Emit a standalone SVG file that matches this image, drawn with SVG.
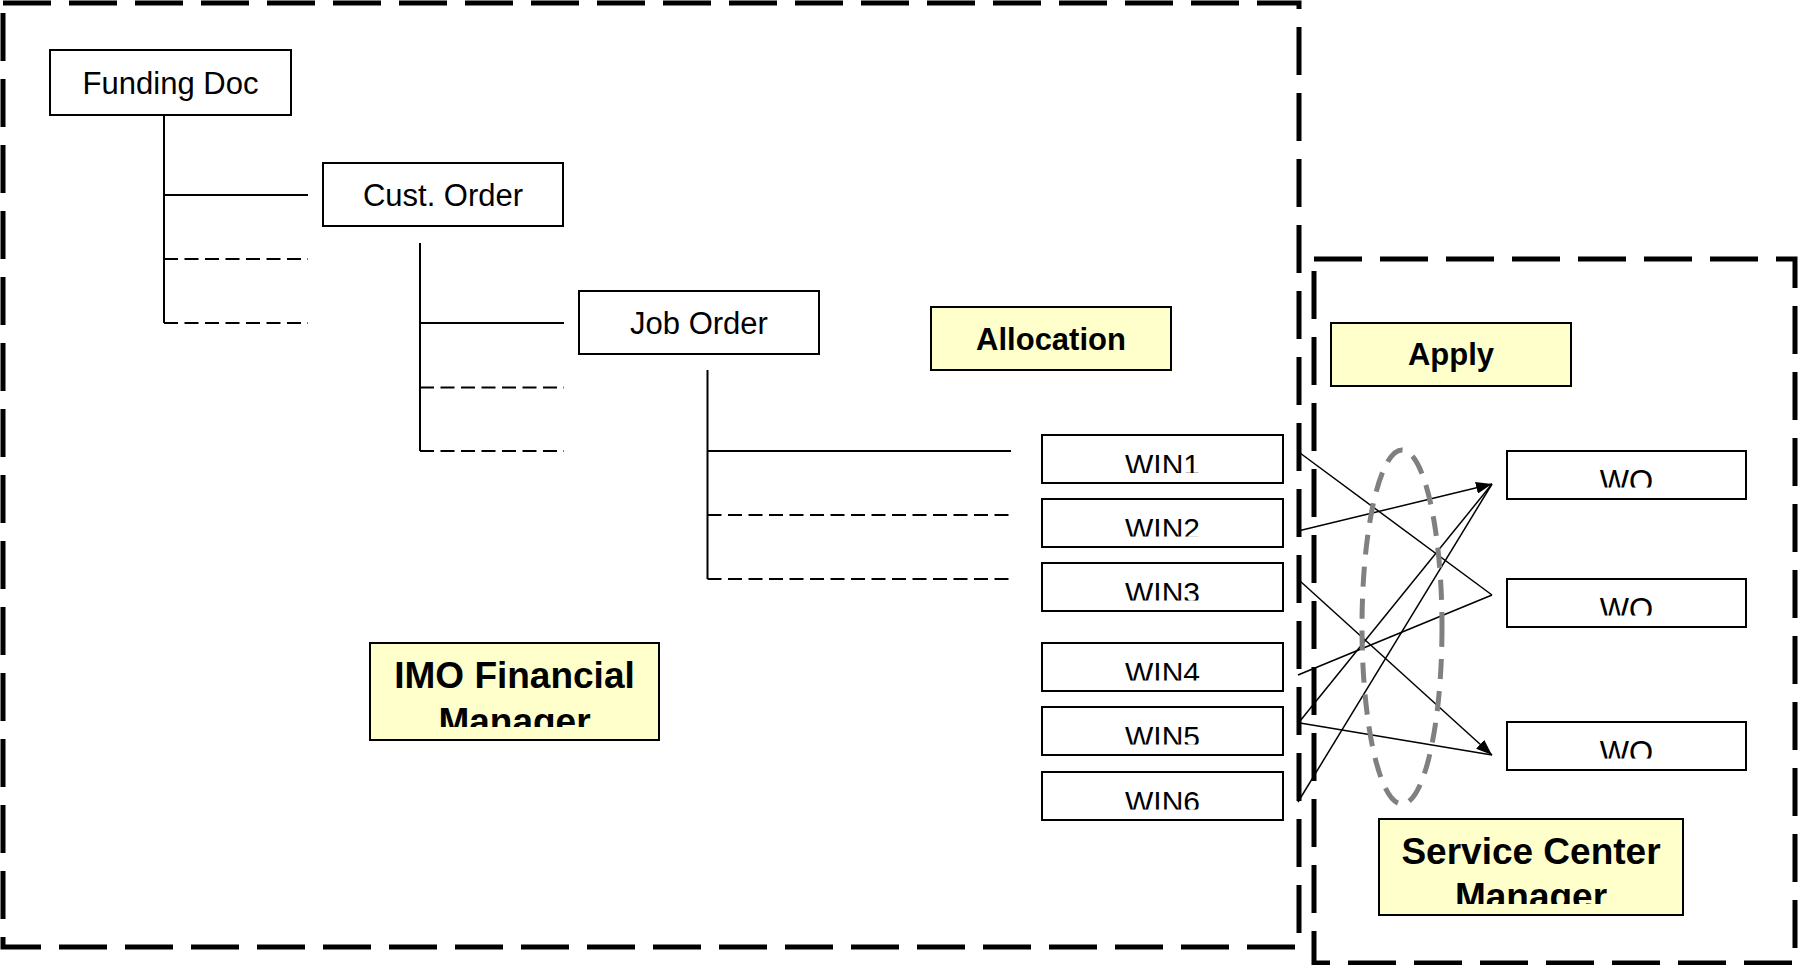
<svg xmlns="http://www.w3.org/2000/svg" width="1798" height="965" viewBox="0 0 1798 965">
<style>
.box{fill:#fff;stroke:#000;stroke-width:2}
.note{fill:#ffffcc;stroke:#000;stroke-width:2}
.t{font-family:"Liberation Sans",Arial,sans-serif;font-size:31px;text-anchor:middle;fill:#000}
.b{font-family:"Liberation Sans",Arial,sans-serif;font-weight:bold;font-size:31px;text-anchor:middle;fill:#000}
.big{font-size:37px}
.win{font-size:30px}
.solid{stroke:#000;stroke-width:2;fill:none}
.dash{stroke:#000;stroke-width:2;fill:none;stroke-dasharray:14 6.5}
.region{fill:none;stroke:#000;stroke-width:5;stroke-dasharray:48 18}
.conn{stroke:#000;stroke-width:1.5;fill:none}
</style>
<defs>
<marker id="arr" markerUnits="userSpaceOnUse" markerWidth="16" markerHeight="12" refX="16" refY="6" orient="auto">
<path d="M0,0 L16,6 L0,12 z" fill="#000"/>
</marker>
<clipPath id="cW1" clipPathUnits="userSpaceOnUse"><rect x="1042" y="435" width="241" height="38"/></clipPath>
<clipPath id="cW2" clipPathUnits="userSpaceOnUse"><rect x="1042" y="499" width="241" height="37.5"/></clipPath>
<clipPath id="cW3" clipPathUnits="userSpaceOnUse"><rect x="1042" y="563" width="241" height="37.5"/></clipPath>
<clipPath id="cW4" clipPathUnits="userSpaceOnUse"><rect x="1042" y="643" width="241" height="37.5"/></clipPath>
<clipPath id="cW5" clipPathUnits="userSpaceOnUse"><rect x="1042" y="707" width="241" height="37.5"/></clipPath>
<clipPath id="cW6" clipPathUnits="userSpaceOnUse"><rect x="1042" y="772" width="241" height="37.5"/></clipPath>
<clipPath id="cO1" clipPathUnits="userSpaceOnUse"><rect x="1507" y="451" width="239" height="36.5"/></clipPath>
<clipPath id="cO2" clipPathUnits="userSpaceOnUse"><rect x="1507" y="579" width="239" height="36.5"/></clipPath>
<clipPath id="cO3" clipPathUnits="userSpaceOnUse"><rect x="1507" y="722" width="239" height="36.5"/></clipPath>
<clipPath id="cIMO" clipPathUnits="userSpaceOnUse"><rect x="370" y="643" width="289" height="84"/></clipPath>
<clipPath id="cSCM" clipPathUnits="userSpaceOnUse"><rect x="1379" y="819" width="304" height="85"/></clipPath>
</defs>

<g id="regions">
<rect class="region" x="3" y="3" width="1296" height="944"/>
<rect class="region" x="1314" y="259" width="481" height="704"/>
</g>

<g id="connectors">
<!-- tree -->
<path class="solid" d="M164,115 V323"/>
<path class="solid" d="M164,195 H308"/>
<path class="dash" d="M164,259 H308"/>
<path class="dash" d="M164,323 H308"/>
<path class="solid" d="M420,243 V451"/>
<path class="solid" d="M420,323 H564"/>
<path class="dash" d="M420,387.5 H564"/>
<path class="dash" d="M420,451 H564"/>
<path class="solid" d="M707.5,370 V579"/>
<path class="solid" d="M707.5,451 H1011"/>
<path class="dash" d="M707.5,515 H1011"/>
<path class="dash" d="M707.5,579 H1011"/>
<!-- allocation lines -->
<line class="conn" x1="1300" y1="453" x2="1492" y2="595"/>
<line class="conn" x1="1298" y1="531" x2="1492" y2="484" marker-end="url(#arr)"/>
<line class="conn" x1="1300" y1="581" x2="1492" y2="755" marker-end="url(#arr)"/>
<line class="conn" x1="1298" y1="675" x2="1492" y2="595"/>
<line class="conn" x1="1300" y1="721" x2="1492" y2="484"/>
<line class="conn" x1="1300" y1="723" x2="1492" y2="755"/>
<line class="conn" x1="1298" y1="802" x2="1492" y2="484"/>
<ellipse cx="1402" cy="627" rx="40" ry="177" fill="none" stroke="#808080" stroke-width="5" stroke-dasharray="20 12"/>
</g>

<g id="funding-doc"><rect class="box" x="50" y="50" width="241" height="65"/><text class="t" x="170.5" y="94">Funding Doc</text></g>
<g id="cust-order"><rect class="box" x="323" y="163" width="240" height="63"/><text class="t" x="443" y="206">Cust. Order</text></g>
<g id="job-order"><rect class="box" x="579" y="291" width="240" height="63"/><text class="t" x="699" y="334">Job Order</text></g>
<g id="allocation"><rect class="note" x="931" y="307" width="240" height="63"/><text class="b" x="1051" y="350">Allocation</text></g>
<g id="apply"><rect class="note" x="1331" y="323" width="240" height="63"/><text class="b" x="1451" y="365">Apply</text></g>

<g id="win1"><rect class="box" x="1042" y="435" width="241" height="48"/><text class="t win" x="1162.5" y="475" clip-path="url(#cW1)">WIN1</text></g>
<g id="win2"><rect class="box" x="1042" y="499" width="241" height="48"/><text class="t win" x="1162.5" y="539" clip-path="url(#cW2)">WIN2</text></g>
<g id="win3"><rect class="box" x="1042" y="563" width="241" height="48"/><text class="t win" x="1162.5" y="603" clip-path="url(#cW3)">WIN3</text></g>
<g id="win4"><rect class="box" x="1042" y="643" width="241" height="48"/><text class="t win" x="1162.5" y="683" clip-path="url(#cW4)">WIN4</text></g>
<g id="win5"><rect class="box" x="1042" y="707" width="241" height="48"/><text class="t win" x="1162.5" y="747" clip-path="url(#cW5)">WIN5</text></g>
<g id="win6"><rect class="box" x="1042" y="772" width="241" height="48"/><text class="t win" x="1162.5" y="812" clip-path="url(#cW6)">WIN6</text></g>

<g id="wo1"><rect class="box" x="1507" y="451" width="239" height="48"/><text class="t" x="1626.5" y="492" clip-path="url(#cO1)">WO</text></g>
<g id="wo2"><rect class="box" x="1507" y="579" width="239" height="48"/><text class="t" x="1626.5" y="620" clip-path="url(#cO2)">WO</text></g>
<g id="wo3"><rect class="box" x="1507" y="722" width="239" height="48"/><text class="t" x="1626.5" y="763" clip-path="url(#cO3)">WO</text></g>

<g id="imo-financial-manager"><rect class="note" x="370" y="643" width="289" height="97"/>
<text class="b big" x="514.5" clip-path="url(#cIMO)"><tspan x="514.5" y="688">IMO Financial</tspan><tspan x="514.5" y="734">Manager</tspan></text></g>
<g id="service-center-manager"><rect class="note" x="1379" y="819" width="304" height="96"/>
<text class="b big" x="1531" clip-path="url(#cSCM)"><tspan x="1531" y="864">Service Center</tspan><tspan x="1531" y="909">Manager</tspan></text></g>
</svg>
